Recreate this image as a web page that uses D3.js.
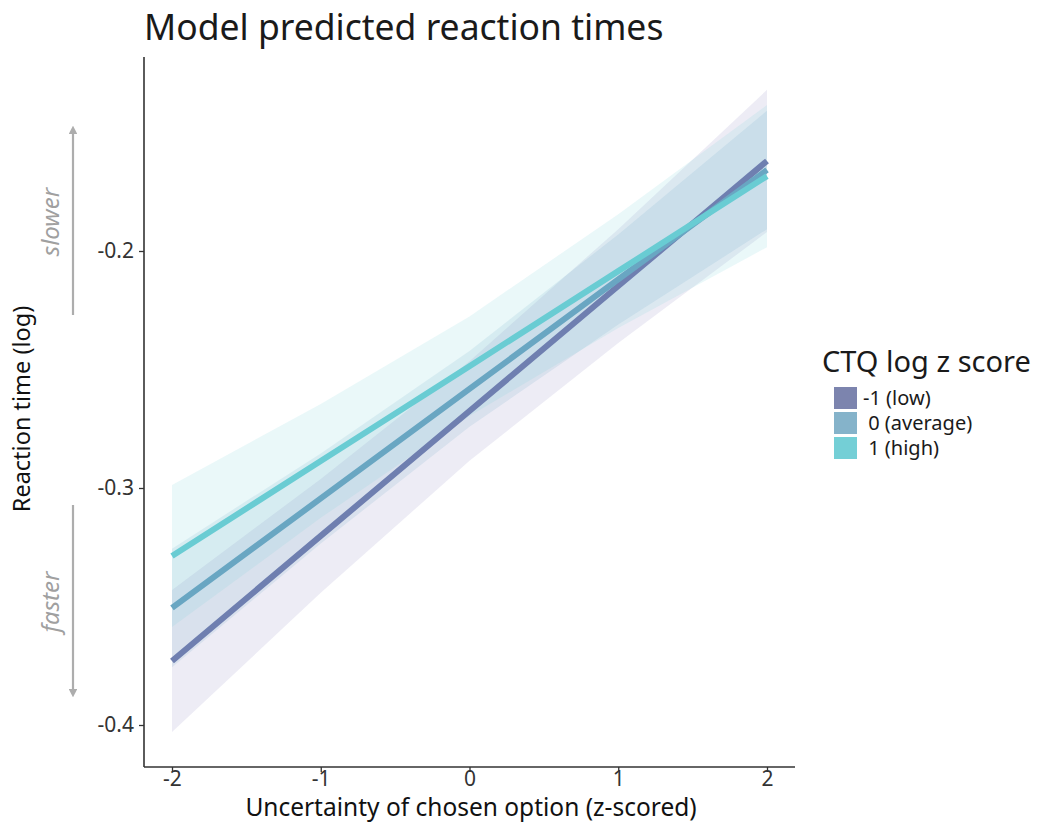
<!DOCTYPE html>
<html>
<head>
<meta charset="utf-8">
<script src="https://cdn.jsdelivr.net/npm/d3@7"></script>
<style>
  html, body { margin: 0; padding: 0; background: #fff; }
  svg { display: block; font-family: "Noto Sans", Lato, sans-serif; }
</style>
</head>
<body>
<svg id="chart" width="1049" height="823"></svg>
<script>
// Uncertainty of chosen option (z-scored) at which predictions are evaluated
const xValues = [-2, -1, 0, 1, 2];

// Groups of childhood trauma (CTQ log z score)
const groupLabels = ["-1 (low)", "0 (average)", "1 (high)"];

// Predicted log reaction time per group
const fitLow  = [-0.373, -0.3202, -0.2675, -0.2148, -0.162];
const fitAvg  = [-0.3506, -0.3044, -0.2582, -0.2120, -0.1658];
const fitHigh = [-0.3287, -0.2886, -0.2486, -0.2085, -0.1684];

// Confidence band bounds per group
const lowerLow  = [-0.403, -0.3442, -0.2885, -0.2388, -0.192];
const upperLow  = [-0.343, -0.2962, -0.2465, -0.1908, -0.132];
const lowerAvg  = [-0.3756, -0.3234, -0.2742, -0.2310, -0.1908];
const upperAvg  = [-0.3256, -0.2854, -0.2422, -0.1930, -0.1408];
const lowerHigh = [-0.3587, -0.3126, -0.2696, -0.2325, -0.1984];
const upperHigh = [-0.2987, -0.2646, -0.2276, -0.1845, -0.1384];

const xTicks = [-2, -1, 0, 1, 2];
const yTicks = [-0.4, -0.3, -0.2];

const lineColors = ["#6f7fb0", "#69a6c2", "#69ccd3"];
const bandColors = ["#8c86bf", "#72a9c6", "#7dd3d9"];
const keyColors  = ["#7c84ae", "#85b3ca", "#74cfd6"];

const groups = [
  { label: groupLabels[0], fit: fitLow,  lo: lowerLow,  hi: upperLow },
  { label: groupLabels[1], fit: fitAvg,  lo: lowerAvg,  hi: upperAvg },
  { label: groupLabels[2], fit: fitHigh, lo: lowerHigh, hi: upperHigh }
];

const svg = d3.select("#chart");

const x = d3.scaleLinear().domain([-2, 2]).range([172, 767]);
const y = d3.scaleLinear().domain([-0.4, -0.2]).range([725, 251]);

const plotLeft = 144, plotRight = 795, plotTop = 57, plotBottom = 767;

// plain hyphen for negative tick labels
const hyphen = fmt => d => fmt(d).replace("\u2212", "-");

// Title
svg.append("text")
  .attr("x", 144).attr("y", 40)
  .attr("font-size", 35.5).attr("fill", "#1a1a1a")
  .text("Model predicted reaction times");

// Confidence bands
const area = d3.area()
  .x((d, i) => x(xValues[i]))
  .y0(d => y(d[0]))
  .y1(d => y(d[1]));

svg.append("g").selectAll("path")
  .data(groups)
  .join("path")
  .attr("d", g => area(g.lo.map((v, i) => [v, g.hi[i]])))
  .attr("fill", (g, i) => bandColors[i])
  .attr("fill-opacity", 0.16);

// Fitted lines
const line = d3.line()
  .x((d, i) => x(xValues[i]))
  .y(d => y(d));

svg.append("g").selectAll("path")
  .data(groups)
  .join("path")
  .attr("d", g => line(g.fit))
  .attr("fill", "none")
  .attr("stroke", (g, i) => lineColors[i])
  .attr("stroke-width", 6);

// Axes
const xAxis = svg.append("g")
  .attr("transform", `translate(0,${plotBottom})`)
  .call(d3.axisBottom(x).tickValues(xTicks).tickFormat(hyphen(d3.format("d"))).tickSize(5).tickSizeOuter(0));
xAxis.select(".domain").attr("d", `M${plotLeft},0H${plotRight}`);

const yAxis = svg.append("g")
  .attr("transform", `translate(${plotLeft},0)`)
  .call(d3.axisLeft(y).tickValues(yTicks).tickFormat(hyphen(d3.format(".1f"))).tickSize(5).tickSizeOuter(0));
yAxis.select(".domain").attr("d", `M0,${plotTop}V${plotBottom}`);

[xAxis, yAxis].forEach(a => {
  a.select(".domain").attr("stroke", "#333").attr("stroke-width", 1.6);
  a.selectAll(".tick line").attr("stroke", "#333").attr("stroke-width", 1.3);
  a.selectAll(".tick text")
    .attr("font-family", "'Noto Sans', Lato, sans-serif")
    .attr("font-size", 21).attr("fill", "#333");
});
xAxis.selectAll(".tick text").attr("y", 19).attr("dy", null);
yAxis.selectAll(".tick text").attr("x", -10);

// Axis titles
svg.append("text")
  .attr("x", 471).attr("y", 816)
  .attr("text-anchor", "middle").attr("font-size", 24.5).attr("fill", "#111")
  .text("Uncertainty of chosen option (z-scored)");

svg.append("text")
  .attr("transform", "translate(30,409) rotate(-90)")
  .attr("text-anchor", "middle").attr("font-size", 23.5).attr("fill", "#111")
  .text("Reaction time (log)");

// Direction hints beside the y axis
const defs = svg.append("defs");
defs.append("marker")
  .attr("id", "head")
  .attr("viewBox", "0 0 10 10").attr("refX", 5).attr("refY", 5)
  .attr("markerWidth", 4).attr("markerHeight", 4)
  .attr("orient", "auto-start-reverse")
  .append("path").attr("d", "M0,0L10,5L0,10Z").attr("fill", "#adadad");

svg.append("line")
  .attr("x1", 73).attr("x2", 73).attr("y1", 315).attr("y2", 130)
  .attr("stroke", "#adadad").attr("stroke-width", 2.2)
  .attr("marker-end", "url(#head)");
svg.append("line")
  .attr("x1", 73).attr("x2", 73).attr("y1", 505).attr("y2", 693)
  .attr("stroke", "#adadad").attr("stroke-width", 2.2)
  .attr("marker-end", "url(#head)");

svg.append("text")
  .attr("transform", "translate(59,222) rotate(-90)")
  .attr("text-anchor", "middle").attr("font-size", 24)
  .attr("font-style", "italic").attr("fill", "#a0a0a0")
  .text("slower");
svg.append("text")
  .attr("transform", "translate(59,602) rotate(-90)")
  .attr("text-anchor", "middle").attr("font-size", 24)
  .attr("font-style", "italic").attr("fill", "#a0a0a0")
  .text("faster");

// Legend
const legend = svg.append("g").attr("transform", "translate(822,0)");
legend.append("text")
  .attr("x", 0).attr("y", 372)
  .attr("font-size", 29).attr("fill", "#1a1a1a")
  .text("CTQ log z score");

const item = legend.selectAll("g.item")
  .data(groups)
  .join("g")
  .attr("class", "item")
  .attr("transform", (g, i) => `translate(0,${387 + i * 25})`);
item.append("rect")
  .attr("x", 12).attr("y", 0).attr("width", 23).attr("height", 22)
  .attr("fill", (g, i) => keyColors[i]);
item.append("text")
  .attr("x", 41).attr("y", 18)
  .attr("font-size", 20).attr("fill", "#1a1a1a")
  .attr("xml:space", "preserve")
  .text((g, i) => (i === 0 ? "" : " ") + g.label);
</script>
</body>
</html>
